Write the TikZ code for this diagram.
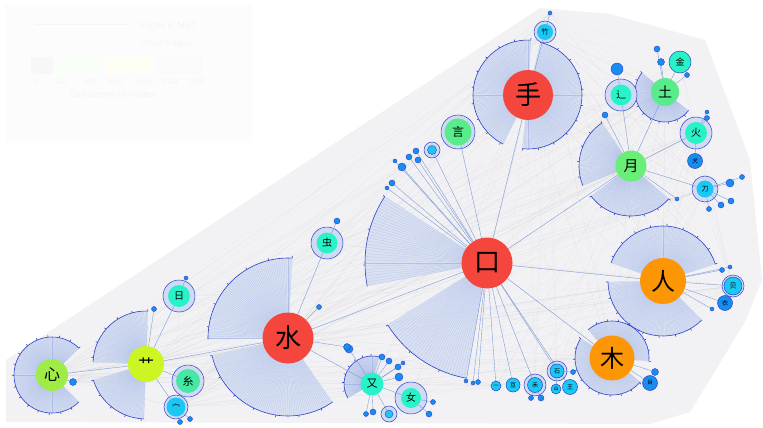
\documentclass[tikz,border=0pt]{standalone}
\usepackage{fontspec}
\setsansfont{Liberation Sans}
\newfontfamily\cjk{Noto Sans CJK SC}
\usepackage{tikz}
\usetikzlibrary{backgrounds,positioning}

\definecolor{hubred}{RGB}{244,70,60}
\definecolor{huborange}{RGB}{252,150,5}
\definecolor{hubgreen}{RGB}{105,238,120}
\definecolor{leafgreen}{RGB}{88,236,140}
\definecolor{limegreen}{RGB}{160,236,70}
\definecolor{yellowgreen}{RGB}{205,245,35}
\definecolor{nodeteal}{RGB}{40,242,200}
\definecolor{greenteal}{RGB}{70,232,165}
\definecolor{nodecyan}{RGB}{25,200,245}
\definecolor{nodeblue}{RGB}{25,140,240}
\definecolor{arcblue}{RGB}{45,65,200}
\definecolor{rayblue}{RGB}{120,150,218}
\definecolor{fanblue}{RGB}{208,218,243}
\definecolor{bggray}{RGB}{242,242,244}

\newcommand{\fanwedge}[4]{%
  \fill[fanfill] (#1.center) -- ++(#2:#4pt) arc[start angle=#2,end angle=#3,radius=#4pt] -- cycle;
  \pgfmathsetmacro{\fannext}{#2+1.5}
  \foreach \ang in {#2,\fannext,...,#3} \draw[fanray] (#1.center) -- ++(\ang:#4pt);
  \pgfmathsetmacro{\ticknext}{#2+17}
  \foreach \ang in {#2,\ticknext,...,#3} \draw[fanarc] (#1.center) ++(\ang:#4pt) -- ++(\ang:2pt);
  \draw[fanarc] (#1.center) ++(#2:#4pt) arc[start angle=#2,end angle=#3,radius=#4pt];
}

\begin{document}
\begin{tikzpicture}[x=1pt,y=-1pt,
hub/.style={circle,inner sep=0pt,text=black},
leaf/.style={circle,inner sep=0pt,text=black,draw=arcblue,line width=0.5pt},
dot/.style={circle,inner sep=0pt,fill=nodeblue,draw=arcblue,line width=0.4pt,minimum size=6pt},
lab/.style={font=\cjk\fontsize{#1}{#1}\selectfont},
mst/.style={draw=rayblue,line width=0.35pt},
other/.style={draw=gray,opacity=0.05,line width=0.3pt},
ring/.style={draw=arcblue,line width=0.5pt,fill=fanblue},
fanfill/.style={fill=fanblue,opacity=0.7},
fanray/.style={draw=rayblue,opacity=0.4,line width=0.2pt},
fanarc/.style={draw=arcblue,line width=0.6pt},
legendtext/.style={text=black!4,font=\sffamily\fontsize{9}{9}\selectfont}]
\useasboundingbox (0,0) rectangle (763,428);

\node[hub,fill=hubred,minimum size=51pt,lab=26] (kou) at (487,263) {口};
\node[hub,fill=hubred,minimum size=50pt,lab=26] (shou) at (528,95) {手};
\node[hub,fill=hubred,minimum size=51pt,lab=26] (shui) at (288,338) {水};
\node[hub,fill=huborange,minimum size=46pt,lab=24] (ren) at (663,281) {人};
\node[hub,fill=huborange,minimum size=45pt,lab=24] (mu) at (612,358) {木};
\node[hub,fill=hubgreen,minimum size=31pt,lab=15] (yue) at (631,166) {月};
\node[hub,fill=leafgreen,minimum size=28pt,lab=14] (tu) at (665,92) {土};
\node[hub,fill=limegreen,minimum size=32pt,lab=16] (xin) at (52,375) {心};
\node[hub,fill=yellowgreen,minimum size=36pt,lab=16] (cao) at (146,364) {艹};
\node[hub,fill=leafgreen,minimum size=27pt,lab=12] (yan) at (458,132) {言};
\node[hub,fill=nodeteal,minimum size=21pt,lab=10] (chong) at (327,243) {虫};
\node[hub,fill=nodeteal,minimum size=22pt,lab=10] (ri) at (179,296) {日};
\node[hub,fill=greenteal,minimum size=24pt,lab=11] (mi) at (188,381) {糸};
\node[hub,fill=nodecyan,minimum size=19pt,lab=8] (mian) at (176,407) {宀};
\node[hub,fill=nodeteal,minimum size=23pt,lab=11] (you) at (372,384) {又};
\node[hub,fill=nodeteal,minimum size=20pt,lab=10] (nu) at (411,398) {女};
\node[hub,fill=nodecyan,minimum size=16pt,lab=7] (zhu) at (545,32) {竹};
\node[hub,fill=nodeteal,minimum size=21pt,lab=10] (chuo) at (621,95) {辶};
\node[leaf,fill=nodeteal,minimum size=22pt,lab=9] (jin) at (680,62) {金};
\node[hub,fill=nodeteal,minimum size=22pt,lab=10] (huo) at (696,133) {火};
\node[leaf,fill=nodeblue,minimum size=15pt,lab=6] (quan) at (695,161) {犬};
\node[hub,fill=nodecyan,minimum size=17pt,lab=7] (dao) at (705,189) {刀};
\node[leaf,fill=nodecyan,minimum size=18pt,lab=7] (bei) at (733,286) {贝};
\node[leaf,fill=nodeblue,minimum size=15pt,lab=6] (yi) at (725,303) {衣};
\node[leaf,fill=nodeblue,minimum size=15pt,lab=5.5] (mu2) at (650,383) {目};
\node[leaf,fill=nodecyan,minimum size=14pt,lab=6] (shi) at (557,371) {石};
\node[leaf,fill=nodecyan,minimum size=15pt,lab=6] (wang) at (570,387) {王};
\node[leaf,fill=nodecyan,minimum size=10pt,lab=5] (shan) at (556,389) {山};
\node[leaf,fill=nodecyan,minimum size=15pt,lab=6] (he) at (535,385) {禾};
\node[leaf,fill=nodecyan,minimum size=14pt,lab=6] (dou) at (513,385) {豆};
\node[leaf,fill=nodecyan,minimum size=10pt,lab=5] (yi1) at (496,386) {一};
\node[dot,fill=nodecyan,minimum size=9pt] (fang) at (432,150) {};
\node[dot,minimum size=12pt] (zao) at (617,69) {};

\node[dot] (d1) at (416,151) {};
\node[dot] (d2) at (409,157) {};
\node[dot] (d3) at (418,160) {};
\node[dot,minimum size=8pt] (d4) at (402,167) {};
\node[dot,minimum size=4pt] (d5) at (395,161) {};
\node[dot] (d6) at (392,183) {};
\node[dot,minimum size=4pt] (d7) at (387,188) {};
\node[dot,minimum size=8pt] (d8) at (349,349) {};
\node[dot] (d9) at (382,357) {};
\node[dot] (d10) at (389,361) {};
\node[dot] (d11) at (398,367) {};
\node[dot,minimum size=4pt] (d12) at (403,363) {};
\node[dot,minimum size=8pt] (d13) at (399,377) {};
\node[dot] (d14) at (373,412) {};
\node[dot,minimum size=5pt] (d15) at (366,414) {};
\node[dot,minimum size=8pt,fill=nodecyan] (d16) at (389,414) {};
\node[dot] (d17) at (429,414) {};
\node[dot,minimum size=5pt] (d18) at (433,402) {};
\node[dot,minimum size=4pt] (d19) at (466,381) {};
\node[dot,minimum size=4pt] (d20) at (473,383) {};
\node[dot,minimum size=5pt] (d21) at (478,382) {};
\node[dot,minimum size=5pt] (d22) at (531,398) {};
\node[dot] (d23) at (541,398) {};
\node[dot,minimum size=5pt] (d24) at (573,372) {};
\node[dot,minimum size=5pt] (d25) at (722,270) {};
\node[dot,minimum size=4pt] (d26) at (730,267) {};
\node[dot,minimum size=4pt] (d27) at (712,309) {};
\node[dot,minimum size=7pt] (d28) at (655,372) {};
\node[dot,minimum size=6pt] (d29) at (657,49) {};
\node[dot,minimum size=7pt] (d30) at (661,62) {};
\node[dot,minimum size=5pt] (d31) at (687,75) {};
\node[dot,minimum size=6pt] (d32) at (605,115) {};
\node[dot,minimum size=4pt] (d33) at (677,199) {};
\node[dot,minimum size=4pt] (d34) at (707,112) {};
\node[dot,minimum size=5pt] (d35) at (707,118) {};
\node[dot,minimum size=8pt] (d36) at (730,183) {};
\node[dot,minimum size=5pt] (d37) at (742,177) {};
\node[dot,minimum size=6pt] (d38) at (721,205) {};
\node[dot,minimum size=6pt] (d39) at (731,201) {};
\node[dot,minimum size=5pt] (d40) at (709,209) {};
\node[dot,minimum size=4pt] (d41) at (550,13) {};
\node[dot,minimum size=6pt] (d42) at (337,221) {};
\node[dot,minimum size=5pt] (d43) at (319,307) {};
\node[dot,minimum size=7pt] (d44) at (347,347) {};
\node[dot,minimum size=5pt] (d45) at (154,309) {};
\node[dot,minimum size=7pt] (d46) at (73,382) {};
\node[dot,minimum size=5pt] (d47) at (190,419) {};
\node[dot,minimum size=5pt] (d48) at (180,422) {};
\node[dot,minimum size=4pt] (d49) at (186,278) {};

\begin{scope}[on background layer]
\fill[white] (0,0) rectangle (763,428);
\fill[black!1] (5,5) rectangle (252,143);
\draw[black!4,line width=1pt] (35,25) -- (130,25);
\node[legendtext] (mstkey) at (168,26) {Edges in MST};
\node[legendtext] (otherkey) at (166,44) {Other Edges};
\fill[black!3] (31,57) rectangle (53,74);
\fill[green!3] (56,57) rectangle (100,74);
\fill[yellow!4] (105,57) rectangle (153,74);
\fill[black!2] (157,57) rectangle (202,74);
\foreach \v/\x in {0/37,40/62,80/90,120/115,160/143,200/170,240/197}
  \node[legendtext] (tick\v) at (\x,81) {\v};
\node[legendtext] (degkey) at (113,95) {Out-degree of Nodes};

\fill[bggray] (6,422) -- (6,360) -- (540,8) -- (610,14) -- (705,40) -- (750,160)
  -- (762,280) -- (745,322) -- (690,412) -- (650,424) -- cycle;
\foreach \a in {xin,cao,ri,mi,mian,shui,chong,you,nu,yan,kou,shou,zhu,yue,chuo,tu,jin,huo,dao,ren,bei,mu,he,shi}
  \foreach \b in {xin,cao,shui,kou,shou,yue,tu,ren,mu,zhu,huo,bei,dao,yi1,mian,d46,d41}
    \draw[other] (\a.center) -- (\b.center);

\fanwedge{kou}{147}{191}{122}
\fanwedge{kou}{212}{260}{117}
\fanwedge{shou}{87}{243}{55}
\fanwedge{shou}{-96}{77}{54}
\fanwedge{shui}{87}{181}{80}
\fanwedge{shui}{193}{305}{78}
\fanwedge{ren}{18}{161}{55}
\fanwedge{ren}{181}{315}{55}
\fanwedge{mu}{-5}{130}{37}
\fanwedge{mu}{148}{320}{37}
\fanwedge{yue}{124}{202}{52}
\fanwedge{yue}{217}{319}{50}
\fanwedge{tu}{140}{322}{30}
\fanwedge{xin}{45}{315}{38}
\fanwedge{cao}{88}{178}{53}
\fanwedge{cao}{197}{268}{55}
\fanwedge{you}{75}{210}{28}

\foreach \n/\r in {yan/17,chong/16,ri/16,mi/16,chuo/16,huo/16,dao/13,zhu/11,nu/16,mian/12,he/11,shi/10,bei/11,fang/8,d16/8}
  \filldraw[ring] (\n.center) circle[radius=\r pt];

\foreach \p/\c in {kou/shou,kou/shui,kou/yue,kou/ren,kou/mu,kou/yan,kou/yi1,kou/dou,kou/he,kou/shi,kou/wang,
  kou/d19,kou/d20,kou/d21,kou/fang,kou/d1,kou/d2,kou/d3,kou/d4,kou/d5,kou/d6,kou/d7,
  shou/zhu,zhu/d41,shui/chong,shui/cao,shui/you,shui/d43,shui/d44,chong/d42,
  cao/xin,cao/ri,cao/mi,cao/mian,cao/d45,xin/d46,ri/d49,mian/d47,mian/d48,
  you/nu,you/d8,you/d9,you/d10,you/d11,you/d12,you/d13,you/d14,you/d15,you/d16,nu/d17,nu/d18,
  yue/chuo,yue/tu,yue/huo,yue/dao,yue/d32,yue/d33,chuo/zao,tu/jin,tu/d29,tu/d30,tu/d31,
  huo/quan,huo/d34,huo/d35,dao/d36,dao/d37,dao/d38,dao/d39,dao/d40,
  ren/bei,ren/yi,ren/d25,ren/d26,ren/d27,mu/mu2,mu/d28,he/d22,he/d23,shi/shan,shi/d24}
  \draw[mst] (\p) -- (\c);
\end{scope}
\end{tikzpicture}
\end{document}
